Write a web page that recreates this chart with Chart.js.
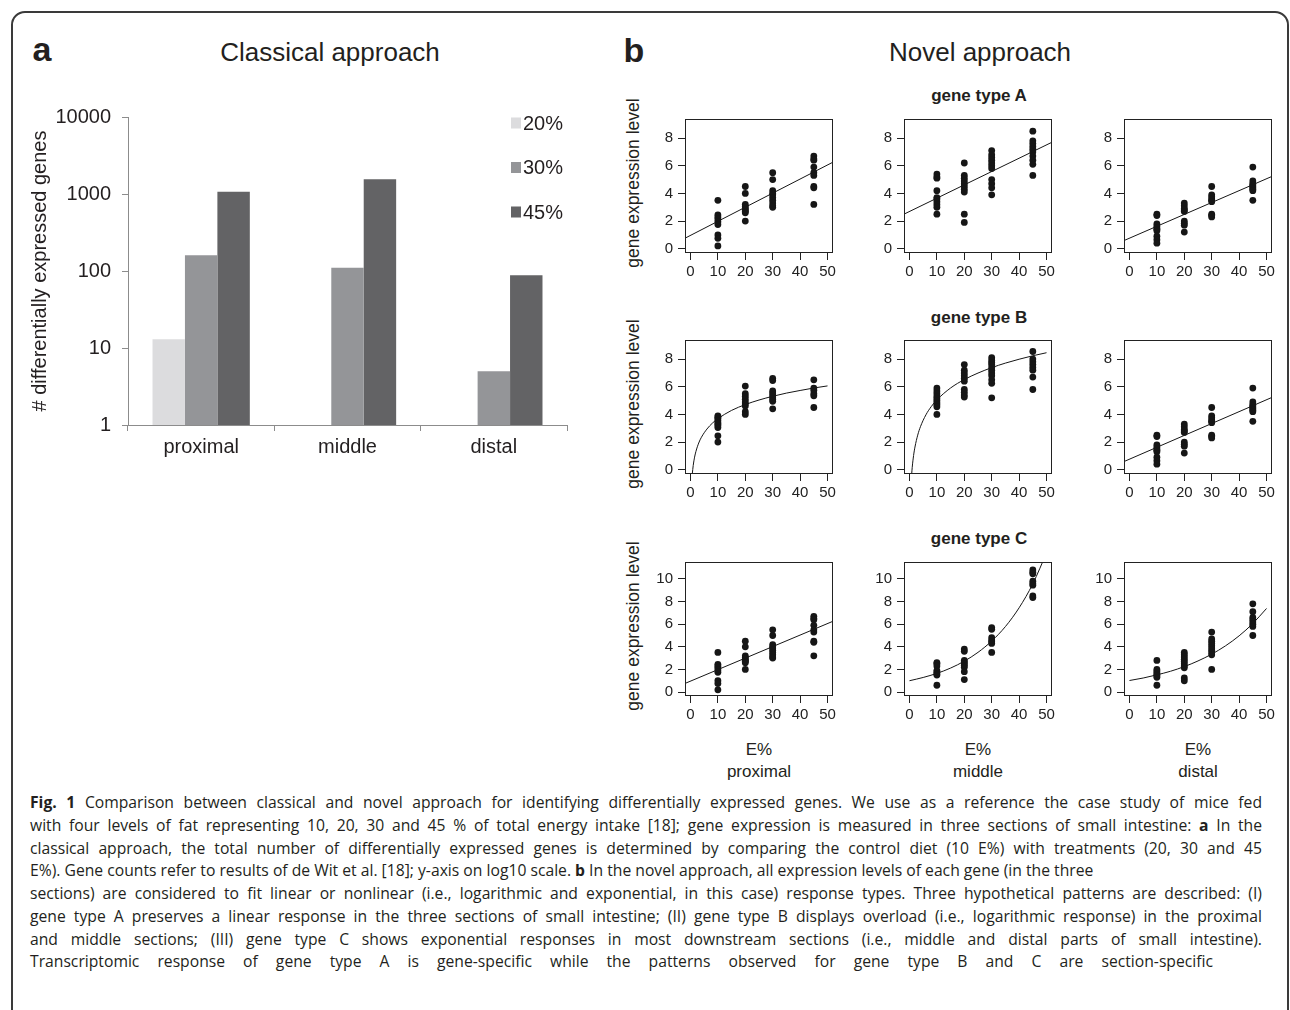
<!DOCTYPE html>
<html>
<head>
<meta charset="utf-8">
<script src="https://cdn.jsdelivr.net/npm/chart.js@4.4.0/dist/chart.umd.min.js"></script>
<style>
body { margin: 0; background: #fff; }
#fig { position: relative; width: 1290px; height: 1010px; overflow: hidden; font-family: "Liberation Sans", Arial, sans-serif; color: #231f20; }
#frame { position: absolute; left: 11px; top: 11px; width: 1274px; height: 1100px; border: 2px solid #3a3a3a; border-radius: 14px; }
canvas { position: absolute; }
.t { position: absolute; white-space: nowrap; line-height: 1; transform: translate(-50%, -50%); }
.ylab { position: absolute; white-space: nowrap; line-height: 1; font-size: 17.5px; transform: translate(-50%, -50%) rotate(-90deg); }
.cap { position: absolute; left: 30px; white-space: nowrap; font-family: "Open Sans", sans-serif; font-size: 15.7px; line-height: 1; text-align: justify; text-align-last: justify; }
</style>
</head>
<body>
<div id="fig">
  <div id="frame"></div>

  <div class="t" style="left:42px;top:49px;font-size:34px;font-weight:bold">a</div>
  <div class="t" style="left:330px;top:52px;font-size:26px">Classical approach</div>
  <div class="t" style="left:634px;top:50px;font-size:34px;font-weight:bold">b</div>
  <div class="t" style="left:980px;top:52px;font-size:26px">Novel approach</div>

  <div class="t" style="left:979px;top:95px;font-size:17px;font-weight:bold">gene type A</div>
  <div class="t" style="left:979px;top:317px;font-size:17px;font-weight:bold">gene type B</div>
  <div class="t" style="left:979px;top:538px;font-size:17px;font-weight:bold">gene type C</div>

  <div class="ylab" style="left:634px;top:183px">gene expression level</div>
  <div class="ylab" style="left:634px;top:404px">gene expression level</div>
  <div class="ylab" style="left:634px;top:626px">gene expression level</div>

  <div class="t" style="left:759px;top:749px;font-size:17px">E%</div>
  <div class="t" style="left:759px;top:771px;font-size:17px">proximal</div>
  <div class="t" style="left:978px;top:749px;font-size:17px">E%</div>
  <div class="t" style="left:978px;top:771px;font-size:17px">middle</div>
  <div class="t" style="left:1198px;top:749px;font-size:17px">E%</div>
  <div class="t" style="left:1198px;top:771px;font-size:17px">distal</div>

  <canvas id="bars" width="566" height="380" style="left:14px;top:90px"></canvas>

  <div class="cap" style="top:795.3px;width:1232px"><b>Fig. 1</b> Comparison between classical and novel approach for identifying differentially expressed genes. We use as a reference the case study of mice fed</div>
  <div class="cap" style="top:818px;width:1232px">with four levels of fat representing 10, 20, 30 and 45 % of total energy intake [18]; gene expression is measured in three sections of small intestine: <b>a</b> In the</div>
  <div class="cap" style="top:840.7px;width:1232px">classical approach, the total number of differentially expressed genes is determined by comparing the control diet (10 E%) with treatments (20, 30 and 45</div>
  <div class="cap" style="top:863.4px;text-align:left;text-align-last:left">E%). Gene counts refer to results of de Wit et al. [18]; y-axis on log10 scale. <b>b</b> In the novel approach, all expression levels of each gene (in the three</div>
  <div class="cap" style="top:886.1px;width:1232px">sections) are considered to fit linear or nonlinear (i.e., logarithmic and exponential, in this case) response types. Three hypothetical patterns are described: (I)</div>
  <div class="cap" style="top:908.8px;width:1232px">gene type A preserves a linear response in the three sections of small intestine; (II) gene type B displays overload (i.e., logarithmic response) in the proximal</div>
  <div class="cap" style="top:931.5px;width:1232px">and middle sections; (III) gene type C shows exponential responses in most downstream sections (i.e., middle and distal parts of small intestine).</div>
  <div class="cap" style="top:954.2px;width:1183px">Transcriptomic response of gene type A is gene-specific while the patterns observed for gene type B and C are section-specific</div>
</div>

<script>
// ---- panel a: number of differentially expressed genes (log scale)
const SECTIONS = ['proximal', 'middle', 'distal'];
const DEG_20 = [13, null, null];
const DEG_30 = [160, 110, 5];
const DEG_45 = [1070, 1560, 88];
const DEG_TICKS = [1, 10, 100, 1000, 10000];

// ---- panel b: expression level per diet group (10, 20, 30, 45 E%)
const ENERGY = [10, 20, 30, 45];
const X_TICKS = [0, 10, 20, 30, 40, 50];
const Y_TICKS_AB = [0, 2, 4, 6, 8];
const Y_TICKS_C = [0, 2, 4, 6, 8, 10];

const EXPR_PROX_LIN = [
  [3.5, 2.45, 2.3, 2.15, 1.95, 1.75, 1.0, 0.75, 0.2],
  [4.5, 4.0, 3.2, 3.05, 2.9, 2.8, 2.7, 2.6, 2.0],
  [5.5, 5.0, 4.2, 4.0, 3.9, 3.7, 3.5, 3.3, 3.1, 3.0],
  [6.7, 6.5, 6.4, 5.9, 5.5, 5.3, 4.5, 4.4, 3.2]
];
const EXPR_A_MID = [
  [5.4, 5.2, 5.1, 4.2, 3.7, 3.6, 3.4, 3.2, 3.0, 2.5],
  [6.2, 5.3, 5.1, 4.9, 4.7, 4.5, 4.3, 4.1, 2.5, 1.9],
  [7.1, 6.8, 6.6, 6.4, 6.2, 6.0, 5.8, 5.0, 4.7, 4.4, 3.9],
  [8.5, 7.8, 7.6, 7.4, 7.2, 7.0, 6.7, 6.4, 6.1, 5.3]
];
const EXPR_DIST_LIN = [
  [2.5, 2.4, 1.8, 1.65, 1.5, 1.4, 1.3, 0.9, 0.65, 0.4],
  [3.3, 3.1, 2.9, 2.8, 2.7, 2.0, 1.85, 1.7, 1.2],
  [4.5, 3.9, 3.75, 3.6, 3.5, 3.4, 2.5, 2.4, 2.3],
  [5.9, 4.9, 4.7, 4.6, 4.5, 4.4, 4.3, 4.2, 3.5]
];
const EXPR_B_PROX = [
  [3.9, 3.8, 3.7, 3.55, 3.4, 3.3, 3.2, 3.05, 2.45, 2.0],
  [6.05, 5.5, 5.3, 5.1, 4.9, 4.75, 4.6, 4.2, 4.0],
  [6.6, 6.45, 5.7, 5.55, 5.4, 5.25, 5.1, 4.95, 4.4],
  [6.5, 5.9, 5.75, 5.5, 5.35, 4.5]
];
const EXPR_B_MID = [
  [5.9, 5.7, 5.5, 5.3, 5.15, 5.0, 4.85, 4.7, 4.55, 4.0],
  [7.6, 7.2, 7.0, 6.8, 6.6, 6.4, 5.8, 5.6, 5.4, 5.25],
  [8.1, 7.9, 7.75, 7.6, 7.4, 7.2, 7.0, 6.8, 6.5, 6.25, 5.2],
  [8.55, 8.0, 7.8, 7.6, 7.4, 7.2, 6.7, 5.8]
];
const EXPR_C_MID = [
  [2.6, 2.5, 2.3, 1.9, 1.75, 1.6, 1.5, 0.6],
  [3.8, 3.6, 2.8, 2.65, 2.5, 2.35, 2.2, 1.8, 1.1],
  [5.7, 5.55, 4.8, 4.6, 4.45, 4.3, 3.5],
  [10.8, 10.6, 10.45, 9.8, 9.6, 9.45, 8.5, 8.35]
];
const EXPR_C_DIST = [
  [2.8, 2.0, 1.85, 1.7, 1.55, 1.45, 1.3, 0.6],
  [3.5, 3.3, 3.1, 2.9, 2.7, 2.5, 2.3, 2.15, 1.25, 1.0],
  [5.3, 4.7, 4.5, 4.3, 4.1, 3.9, 3.7, 3.5, 3.3, 2.0],
  [7.8, 7.1, 6.6, 6.4, 6.2, 6.0, 5.8, 5.0]
];

// fitted responses
const FIT_X_LIN = [-2, 52];
const FIT_PROX_LIN = [0.76, 6.26];
const FIT_A_MID = [2.5, 7.7];
const FIT_DIST_LIN = [0.59, 5.23];
const FIT_X_LOG = [0.65, 1, 1.5, 2, 3, 4, 6, 8, 10, 15, 20, 25, 30, 35, 40, 45, 50];
const FIT_B_PROX = [-0.32, 0.31, 0.91, 1.33, 1.93, 2.35, 2.94, 3.37, 3.69, 4.29, 4.71, 5.04, 5.31, 5.54, 5.73, 5.91, 6.06];
const FIT_B_MID = [-0.74, 0.17, 1.03, 1.64, 2.5, 3.11, 3.97, 4.58, 5.05, 5.91, 6.52, 6.99, 7.38, 7.71, 7.99, 8.24, 8.46];
const FIT_X_EXP = [0, 5, 10, 15, 20, 25, 30, 35, 40, 45, 50];
const FIT_C_MID = [1.0, 1.29, 1.65, 2.12, 2.73, 3.51, 4.51, 5.79, 7.45, 9.57, 12.3];
const FIT_C_DIST = [1.02, 1.24, 1.52, 1.84, 2.25, 2.75, 3.35, 4.08, 4.97, 6.06, 7.39];

const FONT = '"Liberation Sans", Arial, sans-serif';
Chart.defaults.font.family = FONT;
Chart.defaults.color = '#231f20';

// bar chart legend stacked in the top right corner of the plot
const cornerLegend = {
  id: 'cornerLegend',
  afterDraw(chart) {
    const ctx = chart.ctx, a = chart.chartArea;
    ctx.save();
    ctx.font = '20px ' + FONT;
    ctx.textBaseline = 'middle';
    chart.data.datasets.forEach((ds, i) => {
      const y = a.top + 6 + i * 44.5;
      ctx.fillStyle = ds.backgroundColor;
      ctx.fillRect(a.right - 56, y - 5.5, 10, 11);
      ctx.fillStyle = '#231f20';
      ctx.fillText(ds.label, a.right - 44, y + 1);
    });
    ctx.restore();
  }
};

new Chart(document.getElementById('bars'), {
  type: 'bar',
  data: {
    labels: SECTIONS,
    datasets: [
      { label: '20%', data: DEG_20, backgroundColor: '#dcdcde' },
      { label: '30%', data: DEG_30, backgroundColor: '#949598' },
      { label: '45%', data: DEG_45, backgroundColor: '#636365' }
    ]
  },
  options: {
    responsive: false,
    animation: false,
    events: [],
    layout: { padding: { top: 27, right: 13, left: 0, bottom: 0 } },
    datasets: { bar: { categoryPercentage: 0.665, barPercentage: 1.0 } },
    plugins: { legend: { display: false }, tooltip: { enabled: false } },
    scales: {
      x: {
        grid: { offset: true, drawOnChartArea: false, tickLength: 6, color: '#8c8c8c' },
        border: { color: '#8c8c8c' },
        ticks: { font: { size: 20 }, padding: 4 },
        afterFit(s) { s.height = 45; }
      },
      y: {
        type: 'logarithmic',
        min: 1,
        max: 10000,
        afterBuildTicks(s) { s.ticks = DEG_TICKS.map(v => ({ value: v })); },
        ticks: { font: { size: 20 }, padding: 11, callback: v => String(v) },
        grid: { drawOnChartArea: false, tickLength: 6, color: '#8c8c8c' },
        border: { color: '#8c8c8c' },
        title: { display: true, text: '# differentially expressed genes', font: { size: 20 }, padding: { top: 14, bottom: 0 } },
        afterFit(s) { s.width = 114; }
      }
    }
  },
  plugins: [cornerLegend]
});

// ---- panel b grid
const fig = document.getElementById('fig');
const COL_LEFT = [685, 904, 1124];
const ROW_TOP = [117, 338, 560];
const BOX_W = 148, BOX_H = 136;
const YAX = 50, XAX = 32, PAD_T = 12, PAD_R = 14;
const ROW_Y = [
  { min: -0.31, max: 9.38, ticks: Y_TICKS_AB },
  { min: -0.31, max: 9.38, ticks: Y_TICKS_AB },
  { min: -0.35, max: 11.5, ticks: Y_TICKS_C }
];

const PANELS = [
  { row: 0, col: 0, groups: EXPR_PROX_LIN, fx: FIT_X_LIN, fy: FIT_PROX_LIN },
  { row: 0, col: 1, groups: EXPR_A_MID, fx: FIT_X_LIN, fy: FIT_A_MID },
  { row: 0, col: 2, groups: EXPR_DIST_LIN, fx: FIT_X_LIN, fy: FIT_DIST_LIN },
  { row: 1, col: 0, groups: EXPR_B_PROX, fx: FIT_X_LOG, fy: FIT_B_PROX },
  { row: 1, col: 1, groups: EXPR_B_MID, fx: FIT_X_LOG, fy: FIT_B_MID },
  { row: 1, col: 2, groups: EXPR_DIST_LIN, fx: FIT_X_LIN, fy: FIT_DIST_LIN },
  { row: 2, col: 0, groups: EXPR_PROX_LIN, fx: FIT_X_LIN, fy: FIT_PROX_LIN },
  { row: 2, col: 1, groups: EXPR_C_MID, fx: FIT_X_EXP, fy: FIT_C_MID },
  { row: 2, col: 2, groups: EXPR_C_DIST, fx: FIT_X_EXP, fy: FIT_C_DIST }
];

// full frame around each plot region (R style box)
const boxPlugin = {
  id: 'box',
  afterDraw(chart) {
    const a = chart.chartArea, ctx = chart.ctx;
    ctx.save();
    ctx.strokeStyle = '#222';
    ctx.lineWidth = 1;
    ctx.strokeRect(Math.round(a.left) + 0.5, Math.round(a.top) + 0.5, Math.round(a.width) - 1, Math.round(a.height) - 1);
    ctx.restore();
  }
};

PANELS.forEach(p => {
  const cv = document.createElement('canvas');
  cv.width = BOX_W + YAX + PAD_R;
  cv.height = BOX_H + PAD_T + XAX;
  cv.style.left = (COL_LEFT[p.col] - YAX) + 'px';
  cv.style.top = (ROW_TOP[p.row] - PAD_T) + 'px';
  fig.appendChild(cv);

  const pts = [];
  p.groups.forEach((ys, gi) => ys.forEach(y => pts.push({ x: ENERGY[gi], y: y })));
  const fit = p.fx.map((x, i) => ({ x: x, y: p.fy[i] }));
  const yr = ROW_Y[p.row];

  new Chart(cv, {
    type: 'scatter',
    data: {
      datasets: [
        { data: pts, pointRadius: 3.4, backgroundColor: '#161616', borderWidth: 0 },
        { type: 'line', data: fit, borderColor: '#161616', borderWidth: 1, pointRadius: 0,
          fill: false, cubicInterpolationMode: 'monotone' }
      ]
    },
    options: {
      responsive: false,
      animation: false,
      events: [],
      layout: { padding: { top: PAD_T, right: PAD_R, left: 0, bottom: 0 } },
      plugins: { legend: { display: false }, tooltip: { enabled: false } },
      scales: {
        x: {
          type: 'linear', min: -2, max: 52,
          afterBuildTicks(s) { s.ticks = X_TICKS.map(v => ({ value: v })); },
          ticks: { font: { size: 15 }, color: '#222', padding: 3, maxRotation: 0, autoSkip: false },
          grid: { drawOnChartArea: false, tickLength: 7, color: '#222' },
          border: { display: false },
          afterFit(s) { s.height = XAX; }
        },
        y: {
          type: 'linear', min: yr.min, max: yr.max,
          afterBuildTicks(s) { s.ticks = yr.ticks.map(v => ({ value: v })); },
          ticks: { font: { size: 15 }, color: '#222', padding: 5 },
          grid: { drawOnChartArea: false, tickLength: 7, color: '#222' },
          border: { display: false },
          afterFit(s) { s.width = YAX; }
        }
      }
    },
    plugins: [boxPlugin]
  });
});
</script>
</body>
</html>
